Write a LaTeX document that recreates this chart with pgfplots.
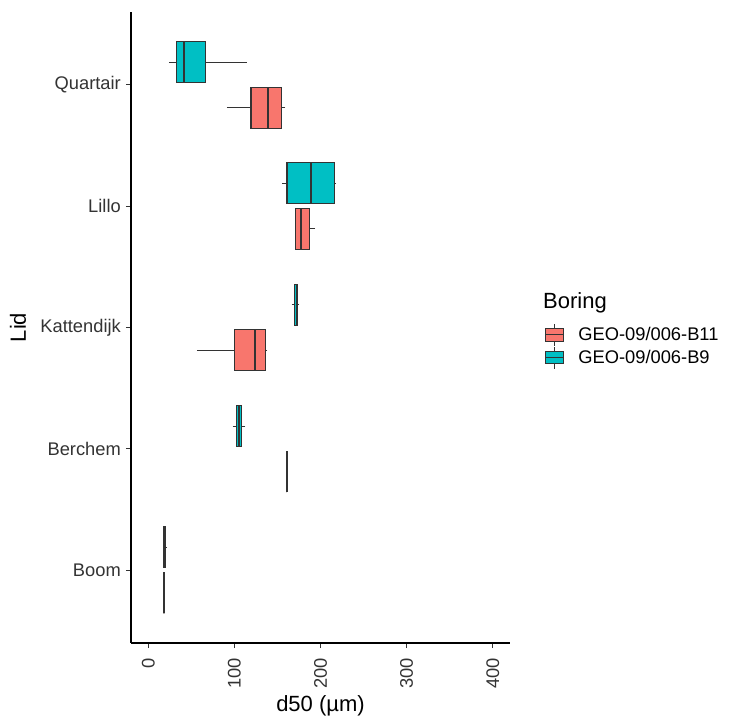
\documentclass[border=0pt]{standalone}
\usepackage{fontspec}
\setmainfont{Liberation Sans}
\usepackage{pgfplots}
\pgfplotsset{compat=1.18}
\usepgfplotslibrary{statistics}

\definecolor{cBeleven}{HTML}{F8766D}
\definecolor{cBnine}{HTML}{00BFC4}
\definecolor{cline}{HTML}{333333}
\definecolor{ctick}{HTML}{333333}

\newcommand{\ticksize}{\fontsize{18.3bp}{21bp}\selectfont}
\newcommand{\titlesize}{\fontsize{22bp}{26bp}\selectfont}

\pgfplotsset{
  hbox/.style={
    boxplot/draw direction=x,
    boxplot/box extend=0.3375,
    boxplot/whisker extend=0,
    draw=cline, line width=1.05bp,
    boxplot/every median/.style={line width=2.1bp},
    forget plot,
  },
  keyimg/.style={
    legend image code/.code={
      \draw[draw=cline, line width=1.05bp] (8.8bp,-10.9bp) -- (8.8bp,10.9bp);
      \draw[draw=cline, fill=#1, line width=1.05bp] (0bp,-6.2bp) rectangle (17.6bp,6.2bp);
      \draw[draw=cline, line width=1.05bp] (0bp,0bp) -- (17.6bp,0bp);
      \path (32.3bp,0bp);
    }
  },
}

\begin{document}
\begin{tikzpicture}
\path[use as bounding box] (0,0) rectangle (730bp,722bp);
\begin{axis}[
  at={(131bp,79bp)}, anchor=south west,
  scale only axis, width=379bp, height=631bp,
  xmin=-20, xmax=420, ymin=0.4, ymax=5.6,
  axis lines=left,
  axis line style={-, line width=1.1bp, black},
  xtick={0,100,200,300,400},
  ytick={1,2,3,4,5},
  yticklabels={Boom,Berchem,Kattendijk,Lillo,Quartair},
  tick align=outside,
  major tick length=5bp,
  tick style={line width=1.1bp, color=ctick},
  /pgf/number format/assume math mode=true,
  xticklabel style={font=\ticksize, text=ctick, inner sep=0pt, yshift=-10bp, rotate=90, anchor=east},
  yticklabel style={font=\ticksize, text=ctick, inner sep=0pt, xshift=-5bp},
  xlabel={d50 (µm)},
  ylabel={Lid},
  xlabel style={font=\titlesize, at={(axis description cs:0.5,0)}, anchor=center, yshift=-63bp},
  ylabel style={font=\titlesize, at={(axis description cs:-0.298,0.5)}, anchor=center},
  legend style={
    draw=none, fill=none, inner sep=0pt,
    at={(axis description cs:1.0929,0.5068)}, anchor=north west,
    nodes={inner sep=0pt, font=\ticksize},
    row sep=0pt,
  },
  legend cell align=left,
]

% Quartair
\addplot[hbox, fill=cBnine, boxplot prepared={draw position=5.1875,
  lower whisker=24.1, lower quartile=33.1, median=41.9, upper quartile=66.8, upper whisker=114.3}]
  coordinates {};
\addplot[hbox, fill=cBeleven, boxplot prepared={draw position=4.8125,
  lower whisker=91.1, lower quartile=119.3, median=139.4, upper quartile=155.0, upper whisker=159.2}]
  coordinates {};

% Lillo
\addplot[hbox, fill=cBnine, boxplot prepared={draw position=4.1875,
  lower whisker=155.3, lower quartile=161.1, median=188.6, upper quartile=216.0, upper whisker=217.7}]
  coordinates {};
\addplot[hbox, fill=cBeleven, boxplot prepared={draw position=3.8125,
  lower whisker=171.2, lower quartile=171.2, median=177.0, upper quartile=186.7, upper whisker=194.0}]
  coordinates {};

% Kattendijk
\addplot[hbox, fill=cBnine, boxplot prepared={draw position=3.1875,
  lower whisker=166.4, lower quartile=169.6, median=173.1, upper quartile=173.1, upper whisker=175.6}]
  coordinates {};
\addplot[hbox, fill=cBeleven, boxplot prepared={draw position=2.8125,
  lower whisker=56.3, lower quartile=100.0, median=124.0, upper quartile=136.4, upper whisker=138.3}]
  coordinates {};

% Berchem
\addplot[hbox, fill=cBnine, boxplot prepared={draw position=2.1875,
  lower whisker=98.1, lower quartile=102.3, median=105.8, upper quartile=108.7, upper whisker=112.7}]
  coordinates {};
\addplot[hbox, fill=cBeleven, boxplot prepared={draw position=1.8125,
  lower whisker=160.8, lower quartile=160.8, median=160.8, upper quartile=160.8, upper whisker=160.8}]
  coordinates {};

% Boom
\addplot[hbox, fill=cBnine, boxplot prepared={draw position=1.1875,
  lower whisker=18.0, lower quartile=18.2, median=19.0, upper quartile=20.2, upper whisker=20.4}]
  coordinates {};
\addplot[hbox, fill=cBeleven, boxplot prepared={draw position=0.8125,
  lower whisker=18.3, lower quartile=18.3, median=18.3, upper quartile=18.3, upper whisker=18.3}]
  coordinates {};

\addlegendimage{keyimg=cBeleven}
\addlegendentry{GEO-09/006-B11}
\addlegendimage{keyimg=cBnine}
\addlegendentry{GEO-09/006-B9}
\end{axis}
\node[anchor=west, font=\titlesize, inner sep=0pt] at (543bp,419.3bp) {Boring};
\end{tikzpicture}
\end{document}
